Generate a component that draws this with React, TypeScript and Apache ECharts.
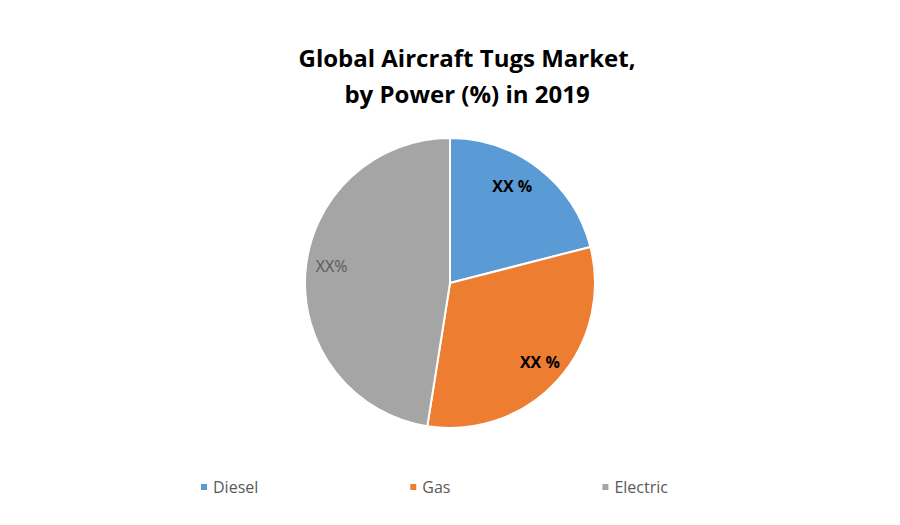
import React, { useEffect, useRef } from "react";
import * as echarts from "echarts";

const titleText = "Global Aircraft Tugs Market,\nby Power (%) in 2019";
const categories = ["Diesel", "Gas", "Electric"];
const shares = [21, 31.5, 47.5];
const sliceLabels = ["XX %", "XX %", "XX%"];
const colors = ["#5B9BD5", "#ED7D31", "#A5A5A5"];

// per-slice label nudges from the default inside position
const labelOffsets: [number, number][] = [
  [16, -37],
  [34, 28],
  [-43, -11],
];
const labelBold = [true, true, false];
const labelColors = ["#000000", "#000000", "#595959"];

const FONT = "'Open Sans', 'Liberation Sans', sans-serif";

export default function App() {
  const ref = useRef<HTMLDivElement>(null);

  useEffect(() => {
    document.body.style.margin = "0";
    const chart = echarts.init(ref.current!, undefined, { renderer: "svg" });
    chart.setOption({
      animation: false,
      backgroundColor: "#ffffff",
      title: {
        text: titleText,
        left: 462,
        textAlign: "center",
        top: 34,
        textStyle: {
          fontFamily: FONT,
          fontWeight: "bold",
          fontSize: 24,
          lineHeight: 36,
          color: "#000000",
        },
      },
      legend: {
        bottom: 25,
        left: 194,
        icon: "rect",
        itemWidth: 8,
        itemHeight: 8,
        itemGap: 150,
        textStyle: { fontFamily: FONT, fontSize: 16, color: "#595959" },
        data: categories,
      },
      series: [
        {
          type: "pie",
          center: [450, 283],
          radius: 145,
          startAngle: 90,
          clockwise: true,
          itemStyle: { borderColor: "#ffffff", borderWidth: 2 },
          label: { show: true, position: "inside", fontFamily: FONT, fontSize: 16 },
          labelLine: { show: false },
          emphasis: { disabled: true },
          data: categories.map((name, i) => ({
            name,
            value: shares[i],
            itemStyle: { color: colors[i] },
            label: {
              formatter: sliceLabels[i],
              offset: labelOffsets[i],
              fontWeight: labelBold[i] ? "bold" : "normal",
              color: labelColors[i],
            },
          })),
        },
      ],
    });
    return () => chart.dispose();
  }, []);

  return <div ref={ref} style={{ width: 900, height: 525 }} />;
}
